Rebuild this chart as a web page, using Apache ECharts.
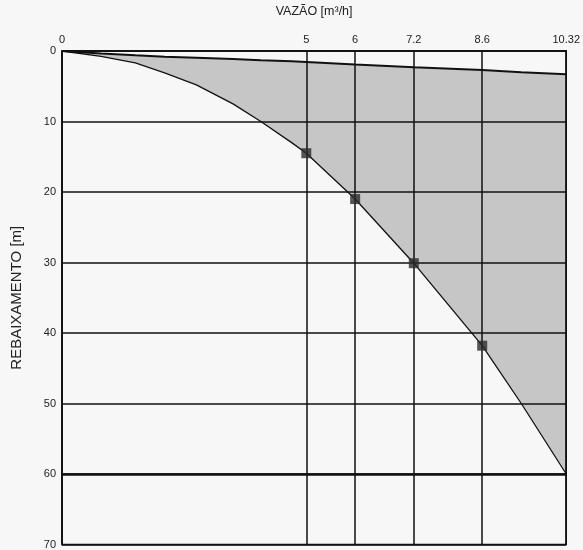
<!DOCTYPE html>
<html>
<head>
<meta charset="utf-8">
<script src="https://cdn.jsdelivr.net/npm/echarts@6/dist/echarts.min.js"></script>
<style>
html,body{margin:0;padding:0;background:#f7f7f7;}
#chart{width:583px;height:550px;}
</style>
</head>
<body>
<div id="chart"></div>
<script>
// Vazão (m³/h) points along the curves
const vazao = [0, 0.8, 1.5, 2.1, 2.75, 3.5, 4.07, 4.7, 5, 6, 7.2, 8.6, 9.4, 10.32];
// Lower curve: rebaixamento (m)
const rebaixamentoInferior = [0, 0.75, 1.7, 3.1, 4.8, 7.5, 10, 13, 14.5, 21, 30.1, 41.8, 50, 60];
// Upper line: rebaixamento (m)
const rebaixamentoSuperior = [0, 0.35, 0.6, 0.8, 0.95, 1.15, 1.3, 1.45, 1.55, 1.9, 2.3, 2.7, 3.0, 3.3];
// Test steps (markers)
const ensaioVazao = [5, 6, 7.2, 8.6];
const ensaioRebaixamento = [14.5, 21, 30.1, 41.8];
// Axis ticks
const xTicks = [0, 5, 6, 7.2, 8.6, 10.32];
const yMin = 0, yMax = 70, yStep = 10;
// Emphasised horizontal reference line
const linhaDestaque = [60];

const upperData = vazao.map((v, i) => [v, rebaixamentoSuperior[i]]);
const lowerData = vazao.map((v, i) => [v, rebaixamentoInferior[i]]);
const markerData = ensaioVazao.map((v, i) => [v, ensaioRebaixamento[i]]);

const bg = '#f7f7f7';
const font = '"Liberation Sans", Arial, sans-serif';
const chart = echarts.init(document.getElementById('chart'), null, {renderer: 'canvas'});
chart.setOption({
  backgroundColor: bg,
  animation: false,
  grid: {left: 62, right: 15, top: 47, bottom: 4, show: true, borderColor: '#111', borderWidth: 1.5, backgroundColor: 'transparent', z: 5},
  xAxis: {
    type: 'value', position: 'top', min: 0, max: xTicks[xTicks.length - 1],
    name: 'VAZÃO [m³/h]', nameLocation: 'middle', nameGap: 33,
    nameTextStyle: {fontFamily: font, fontSize: 12.5, color: '#222'},
    z: 6,
    axisLine: {show: true, lineStyle: {color: '#111', width: 1.5}},
    axisTick: {show: false, customValues: xTicks},
    axisLabel: {customValues: xTicks, fontFamily: font, fontSize: 11, color: '#222', margin: 6,
      formatter: v => String(v)},
    splitLine: {show: true, lineStyle: {color: '#111', width: 1.5}}
  },
  yAxis: {
    type: 'value', inverse: true, min: yMin, max: yMax, interval: yStep,
    name: 'REBAIXAMENTO [m]', nameLocation: 'middle', nameGap: 38, nameRotate: 90,
    nameTextStyle: {fontFamily: font, fontSize: 15, color: '#222'},
    z: 6,
    axisLine: {show: true, lineStyle: {color: '#111', width: 1.5}},
    axisTick: {show: false},
    axisLabel: {fontFamily: font, fontSize: 11, color: '#222', margin: 6},
    splitLine: {show: true, lineStyle: {color: '#111', width: 1.5}}
  },
  series: [
    {
      type: 'line', data: lowerData, symbol: 'none',
      lineStyle: {color: '#111', width: 1.3},
      areaStyle: {color: '#c6c6c6', opacity: 1, origin: 'start'}, z: 2,
      markLine: {
        silent: true, symbol: 'none', label: {show: false},
        lineStyle: {color: '#111', width: 2.6, type: 'solid'},
        data: linhaDestaque.map(v => ({yAxis: v}))
      }
    },
    {
      type: 'line', data: upperData, symbol: 'none',
      lineStyle: {color: '#111', width: 2},
      areaStyle: {color: bg, opacity: 1, origin: 'start'}, z: 3
    },
    {
      type: 'scatter', data: markerData, symbol: 'rect', symbolSize: 10,
      itemStyle: {color: '#2a2a2a'}, z: 10
    }
  ]
});
</script>
</body>
</html>
